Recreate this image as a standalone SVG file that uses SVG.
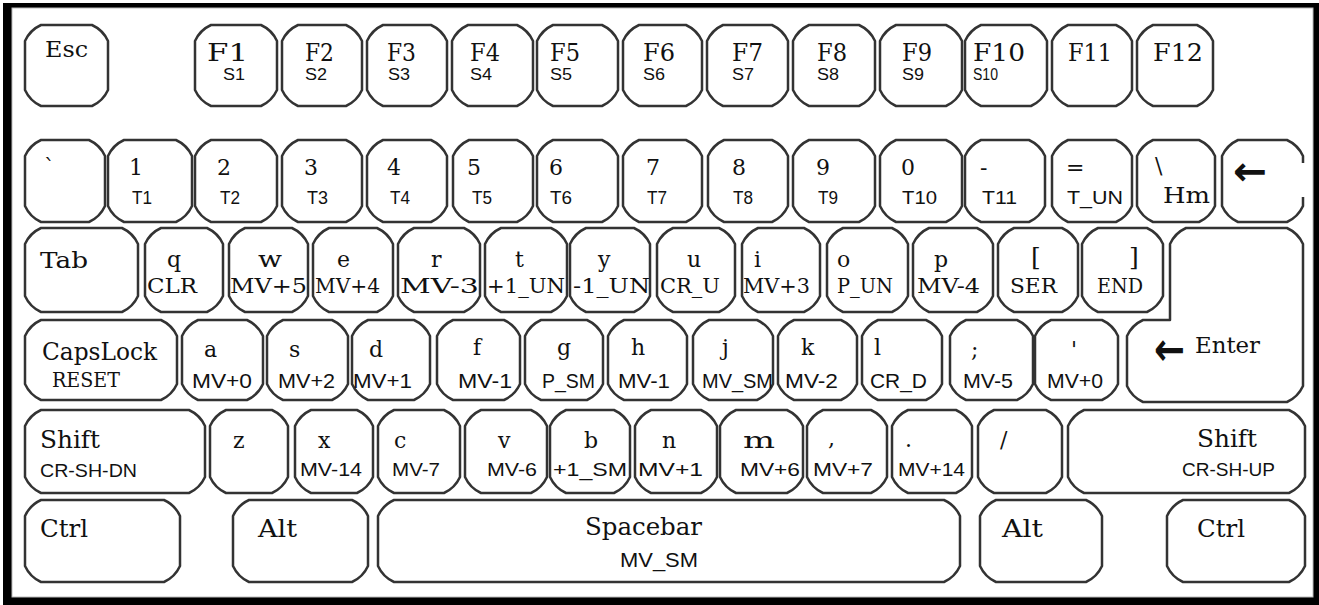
<svg xmlns="http://www.w3.org/2000/svg" width="1319" height="605" viewBox="0 0 1319 605">
<style>
.k{fill:#fff;stroke:#333;stroke-width:2.5;stroke-linejoin:round}
.m{font-family:"DejaVu Serif","Liberation Serif",serif;fill:#111}
.s{font-family:"Liberation Sans","DejaVu Sans",sans-serif;fill:#111}
.fk{font-size:25px}
.mn{font-size:22px}
.ml{font-size:24px}
.sk{font-size:16px}
.sn{font-size:18px}
.sr{font-size:21px}
.s4{font-size:21px}
.ar{font-family:"DejaVu Sans",sans-serif;font-weight:bold;fill:#111}
</style>
<rect x="0" y="0" width="1319" height="605" fill="#fff"/>
<rect x="3" y="3" width="1316" height="602" fill="#000"/>
<rect x="12" y="8" width="1301" height="589" fill="#fff" stroke="#bbb" stroke-width="1"/>

<!-- Row 1 -->
<g id="key-esc"><path class="k" d="M41,25h51q11,5 16,16v49q-5,11 -16,16h-51q-11,-5 -16,-16v-49q5,-11 16,-16z"/><text class="m mn" x="45" y="57" textLength="43" lengthAdjust="spacingAndGlyphs">Esc</text></g>
<g id="key-f1"><path class="k" d="M211,25h50q11,5 16,16v49q-5,11 -16,16h-50q-11,-5 -16,-16v-49q5,-11 16,-16z"/><text class="m fk" x="207" y="61" textLength="41" lengthAdjust="spacingAndGlyphs">F1</text><text class="s sk" x="223" y="80" textLength="22" lengthAdjust="spacingAndGlyphs">S1</text></g>
<g id="key-f2"><path class="k" d="M298,25h48q11,5 16,16v49q-5,11 -16,16h-48q-11,-5 -16,-16v-49q5,-11 16,-16z"/><text class="m fk" x="305" y="61" textLength="29" lengthAdjust="spacingAndGlyphs">F2</text><text class="s sk" x="305" y="80" textLength="22" lengthAdjust="spacingAndGlyphs">S2</text></g>
<g id="key-f3"><path class="k" d="M383,25h48q11,5 16,16v49q-5,11 -16,16h-48q-11,-5 -16,-16v-49q5,-11 16,-16z"/><text class="m fk" x="387" y="61" textLength="29" lengthAdjust="spacingAndGlyphs">F3</text><text class="s sk" x="388" y="80" textLength="22" lengthAdjust="spacingAndGlyphs">S3</text></g>
<g id="key-f4"><path class="k" d="M468,25h49q11,5 16,16v49q-5,11 -16,16h-49q-11,-5 -16,-16v-49q5,-11 16,-16z"/><text class="m fk" x="470" y="61" textLength="30" lengthAdjust="spacingAndGlyphs">F4</text><text class="s sk" x="470" y="80" textLength="22" lengthAdjust="spacingAndGlyphs">S4</text></g>
<g id="key-f5"><path class="k" d="M553,25h49q11,5 16,16v49q-5,11 -16,16h-49q-11,-5 -16,-16v-49q5,-11 16,-16z"/><text class="m fk" x="550" y="61" textLength="30" lengthAdjust="spacingAndGlyphs">F5</text><text class="s sk" x="550" y="80" textLength="22" lengthAdjust="spacingAndGlyphs">S5</text></g>
<g id="key-f6"><path class="k" d="M639,25h47q11,5 16,16v49q-5,11 -16,16h-47q-11,-5 -16,-16v-49q5,-11 16,-16z"/><text class="m fk" x="643" y="61" textLength="32" lengthAdjust="spacingAndGlyphs">F6</text><text class="s sk" x="643" y="80" textLength="22" lengthAdjust="spacingAndGlyphs">S6</text></g>
<g id="key-f7"><path class="k" d="M723,25h49q11,5 16,16v49q-5,11 -16,16h-49q-11,-5 -16,-16v-49q5,-11 16,-16z"/><text class="m fk" x="732" y="61" textLength="31" lengthAdjust="spacingAndGlyphs">F7</text><text class="s sk" x="732" y="80" textLength="22" lengthAdjust="spacingAndGlyphs">S7</text></g>
<g id="key-f8"><path class="k" d="M809,25h50q11,5 16,16v49q-5,11 -16,16h-50q-11,-5 -16,-16v-49q5,-11 16,-16z"/><text class="m fk" x="817" y="61" textLength="30" lengthAdjust="spacingAndGlyphs">F8</text><text class="s sk" x="817" y="80" textLength="22" lengthAdjust="spacingAndGlyphs">S8</text></g>
<g id="key-f9"><path class="k" d="M896,25h50q11,5 16,16v49q-5,11 -16,16h-50q-11,-5 -16,-16v-49q5,-11 16,-16z"/><text class="m fk" x="902" y="61" textLength="30" lengthAdjust="spacingAndGlyphs">F9</text><text class="s sk" x="902" y="80" textLength="22" lengthAdjust="spacingAndGlyphs">S9</text></g>
<g id="key-f10"><path class="k" d="M981,25h50q11,5 16,16v49q-5,11 -16,16h-50q-11,-5 -16,-16v-49q5,-11 16,-16z"/><text class="m fk" x="973" y="61" textLength="52" lengthAdjust="spacingAndGlyphs">F10</text><text class="s sk" x="973" y="80" textLength="25" lengthAdjust="spacingAndGlyphs">S10</text></g>
<g id="key-f11"><path class="k" d="M1068,25h48q11,5 16,16v49q-5,11 -16,16h-48q-11,-5 -16,-16v-49q5,-11 16,-16z"/><text class="m fk" x="1068" y="61" textLength="44" lengthAdjust="spacingAndGlyphs">F11</text></g>
<g id="key-f12"><path class="k" d="M1153,25h44q11,5 16,16v49q-5,11 -16,16h-44q-11,-5 -16,-16v-49q5,-11 16,-16z"/><text class="m fk" x="1153" y="61" textLength="50" lengthAdjust="spacingAndGlyphs">F12</text></g>

<!-- Row 2 -->
<g id="key-grave"><path class="k" d="M41,140h48q11,5 16,16v50q-5,11 -16,16h-48q-11,-5 -16,-16v-50q5,-11 16,-16z"/><text class="m mn" x="44" y="175">`</text></g>
<g id="key-1"><path class="k" d="M124,140h52q11,5 16,16v50q-5,11 -16,16h-52q-11,-5 -16,-16v-50q5,-11 16,-16z"/><text class="m mn" x="129" y="175">1</text><text class="s sn" x="132" y="204" textLength="20" lengthAdjust="spacingAndGlyphs">T1</text></g>
<g id="key-2"><path class="k" d="M211,140h50q11,5 16,16v50q-5,11 -16,16h-50q-11,-5 -16,-16v-50q5,-11 16,-16z"/><text class="m mn" x="217" y="175">2</text><text class="s sn" x="220" y="204" textLength="20" lengthAdjust="spacingAndGlyphs">T2</text></g>
<g id="key-3"><path class="k" d="M298,140h48q11,5 16,16v50q-5,11 -16,16h-48q-11,-5 -16,-16v-50q5,-11 16,-16z"/><text class="m mn" x="304" y="175">3</text><text class="s sn" x="307" y="204" textLength="21" lengthAdjust="spacingAndGlyphs">T3</text></g>
<g id="key-4"><path class="k" d="M383,140h48q11,5 16,16v50q-5,11 -16,16h-48q-11,-5 -16,-16v-50q5,-11 16,-16z"/><text class="m mn" x="387" y="175">4</text><text class="s sn" x="390" y="204" textLength="20" lengthAdjust="spacingAndGlyphs">T4</text></g>
<g id="key-5"><path class="k" d="M469,140h48q11,5 16,16v50q-5,11 -16,16h-48q-11,-5 -16,-16v-50q5,-11 16,-16z"/><text class="m mn" x="467" y="175">5</text><text class="s sn" x="472" y="204" textLength="20" lengthAdjust="spacingAndGlyphs">T5</text></g>
<g id="key-6"><path class="k" d="M553,140h49q11,5 16,16v50q-5,11 -16,16h-49q-11,-5 -16,-16v-50q5,-11 16,-16z"/><text class="m mn" x="549" y="175">6</text><text class="s sn" x="550" y="204" textLength="22" lengthAdjust="spacingAndGlyphs">T6</text></g>
<g id="key-7"><path class="k" d="M639,140h47q11,5 16,16v50q-5,11 -16,16h-47q-11,-5 -16,-16v-50q5,-11 16,-16z"/><text class="m mn" x="646" y="175">7</text><text class="s sn" x="647" y="204" textLength="20" lengthAdjust="spacingAndGlyphs">T7</text></g>
<g id="key-8"><path class="k" d="M724,140h48q11,5 16,16v50q-5,11 -16,16h-48q-11,-5 -16,-16v-50q5,-11 16,-16z"/><text class="m mn" x="732" y="175">8</text><text class="s sn" x="733" y="204" textLength="20" lengthAdjust="spacingAndGlyphs">T8</text></g>
<g id="key-9"><path class="k" d="M809,140h50q11,5 16,16v50q-5,11 -16,16h-50q-11,-5 -16,-16v-50q5,-11 16,-16z"/><text class="m mn" x="816" y="175">9</text><text class="s sn" x="818" y="204" textLength="20" lengthAdjust="spacingAndGlyphs">T9</text></g>
<g id="key-0"><path class="k" d="M896,140h50q11,5 16,16v50q-5,11 -16,16h-50q-11,-5 -16,-16v-50q5,-11 16,-16z"/><text class="m mn" x="901" y="175">0</text><text class="s sn" x="902" y="204" textLength="35" lengthAdjust="spacingAndGlyphs">T10</text></g>
<g id="key-minus"><path class="k" d="M981,140h48q11,5 16,16v50q-5,11 -16,16h-48q-11,-5 -16,-16v-50q5,-11 16,-16z"/><text class="m mn" x="980" y="175">-</text><text class="s sn" x="982" y="204" textLength="35" lengthAdjust="spacingAndGlyphs">T11</text></g>
<g id="key-equal"><path class="k" d="M1068,140h48q11,5 16,16v50q-5,11 -16,16h-48q-11,-5 -16,-16v-50q5,-11 16,-16z"/><text class="m mn" x="1066" y="175">=</text><text class="s sn" x="1067" y="204" textLength="56" lengthAdjust="spacingAndGlyphs">T_UN</text></g>
<g id="key-backslash"><path class="k" d="M1153,140h46q11,5 16,16v50q-5,11 -16,16h-46q-11,-5 -16,-16v-50q5,-11 16,-16z"/><text class="m mn" x="1155" y="173">\</text><text class="m mn" x="1163" y="203" textLength="47" lengthAdjust="spacingAndGlyphs">Hm</text></g>
<g id="key-backspace"><path class="k" d="M1303,197V206q-5,11 -16,16H1238q-11,-5 -16,-16V156q5,-11 16,-16H1287q11,5 16,16V163"/><text class="ar" x="1233" y="185" font-size="40" textLength="34" lengthAdjust="spacingAndGlyphs">←</text></g>

<!-- Row 3 -->
<g id="key-tab"><path class="k" d="M41,228h81q11,5 16,16v52q-5,11 -16,16h-81q-11,-5 -16,-16v-52q5,-11 16,-16z"/><text class="m mn" x="40" y="268" textLength="48" lengthAdjust="spacingAndGlyphs">Tab</text></g>
<g id="key-q"><path class="k" d="M161,228h46q11,5 16,16v52q-5,11 -16,16h-46q-11,-5 -16,-16v-52q5,-11 16,-16z"/><text class="m mn" x="167" y="267">q</text><text class="m sr" x="147" y="293" textLength="50" lengthAdjust="spacingAndGlyphs">CLR</text></g>
<g id="key-w"><path class="k" d="M245,228h47q11,5 16,16v52q-5,11 -16,16h-47q-11,-5 -16,-16v-52q5,-11 16,-16z"/><text class="m mn" x="258" y="267" textLength="24" lengthAdjust="spacingAndGlyphs">w</text><text class="m sr" x="230" y="293" textLength="77" lengthAdjust="spacingAndGlyphs">MV+5</text></g>
<g id="key-e"><path class="k" d="M329,228h48q11,5 16,16v52q-5,11 -16,16h-48q-11,-5 -16,-16v-52q5,-11 16,-16z"/><text class="m mn" x="337" y="267">e</text><text class="m sr" x="315" y="293" textLength="65" lengthAdjust="spacingAndGlyphs">MV+4</text></g>
<g id="key-r"><path class="k" d="M414,228h50q11,5 16,16v52q-5,11 -16,16h-50q-11,-5 -16,-16v-52q5,-11 16,-16z"/><text class="m mn" x="431" y="267">r</text><text class="m sr" x="400" y="293" textLength="79" lengthAdjust="spacingAndGlyphs">MV-3</text></g>
<g id="key-t"><path class="k" d="M501,228h50q11,5 16,16v52q-5,11 -16,16h-50q-11,-5 -16,-16v-52q5,-11 16,-16z"/><text class="m mn" x="515" y="267">t</text><text class="m sr" x="487" y="293" textLength="78" lengthAdjust="spacingAndGlyphs">+1_UN</text></g>
<g id="key-y"><path class="k" d="M586,228h48q11,5 16,16v52q-5,11 -16,16h-48q-11,-5 -16,-16v-52q5,-11 16,-16z"/><text class="m mn" x="598" y="267">y</text><text class="m sr" x="573" y="293" textLength="77" lengthAdjust="spacingAndGlyphs">-1_UN</text></g>
<g id="key-u"><path class="k" d="M673,228h46q11,5 16,16v52q-5,11 -16,16h-46q-11,-5 -16,-16v-52q5,-11 16,-16z"/><text class="m mn" x="687" y="267">u</text><text class="m sr" x="660" y="293" textLength="60" lengthAdjust="spacingAndGlyphs">CR_U</text></g>
<g id="key-i"><path class="k" d="M758,228h46q11,5 16,16v52q-5,11 -16,16h-46q-11,-5 -16,-16v-52q5,-11 16,-16z"/><text class="m mn" x="754" y="267">i</text><text class="m sr" x="743" y="293" textLength="67" lengthAdjust="spacingAndGlyphs">MV+3</text></g>
<g id="key-o"><path class="k" d="M843,228h49q11,5 16,16v52q-5,11 -16,16h-49q-11,-5 -16,-16v-52q5,-11 16,-16z"/><text class="m mn" x="837" y="267">o</text><text class="m sr" x="837" y="293" textLength="56" lengthAdjust="spacingAndGlyphs">P_UN</text></g>
<g id="key-p"><path class="k" d="M929,228h48q11,5 16,16v52q-5,11 -16,16h-48q-11,-5 -16,-16v-52q5,-11 16,-16z"/><text class="m mn" x="934" y="267">p</text><text class="m sr" x="917" y="293" textLength="63" lengthAdjust="spacingAndGlyphs">MV-4</text></g>
<g id="key-lbracket"><path class="k" d="M1014,228h48q11,5 16,16v52q-5,11 -16,16h-48q-11,-5 -16,-16v-52q5,-11 16,-16z"/><text class="m" font-size="25" x="1031" y="265">[</text><text class="m sr" x="1010" y="293" textLength="47" lengthAdjust="spacingAndGlyphs">SER</text></g>
<g id="key-rbracket"><path class="k" d="M1098,228h49q11,5 16,16v52q-5,11 -16,16h-49q-11,-5 -16,-16v-52q5,-11 16,-16z"/><text class="m" font-size="25" x="1129" y="265">]</text><text class="m sr" x="1097" y="293" textLength="46" lengthAdjust="spacingAndGlyphs">END</text></g>
<g id="key-enter"><path class="k" d="M1186,228H1287q11,5 16,16V386q-5,11 -16,16H1143q-11,-5 -16,-16V336q5,-11 16,-16H1170V244q5,-11 16,-16z"/><text class="ar" x="1154" y="365" font-size="46" textLength="31" lengthAdjust="spacingAndGlyphs">←</text><text class="m mn" x="1195" y="353" textLength="65" lengthAdjust="spacingAndGlyphs">Enter</text></g>

<!-- Row 4 -->
<g id="key-capslock"><path class="k" d="M41,320h120q11,5 16,16v48q-5,11 -16,16h-120q-11,-5 -16,-16v-48q5,-11 16,-16z"/><text class="m ml" x="42" y="360" textLength="115" lengthAdjust="spacingAndGlyphs">CapsLock</text><text class="m sr" x="52" y="387" textLength="68" lengthAdjust="spacingAndGlyphs">RESET</text></g>
<g id="key-a"><path class="k" d="M198,320h49q11,5 16,16v48q-5,11 -16,16h-49q-11,-5 -16,-16v-48q5,-11 16,-16z"/><text class="m mn" x="204" y="357">a</text><text class="s s4" x="192" y="388" textLength="60" lengthAdjust="spacingAndGlyphs">MV+0</text></g>
<g id="key-s"><path class="k" d="M283,320h49q11,5 16,16v48q-5,11 -16,16h-49q-11,-5 -16,-16v-48q5,-11 16,-16z"/><text class="m mn" x="289" y="357">s</text><text class="s s4" x="278" y="388" textLength="57" lengthAdjust="spacingAndGlyphs">MV+2</text></g>
<g id="key-d"><path class="k" d="M368,320h46q11,5 16,16v48q-5,11 -16,16h-46q-11,-5 -16,-16v-48q5,-11 16,-16z"/><text class="m mn" x="369" y="357">d</text><text class="s s4" x="353" y="388" textLength="59" lengthAdjust="spacingAndGlyphs">MV+1</text></g>
<g id="key-f"><path class="k" d="M453,320h51q11,5 16,16v48q-5,11 -16,16h-51q-11,-5 -16,-16v-48q5,-11 16,-16z"/><text class="m mn" x="473" y="355">f</text><text class="s s4" x="458" y="388" textLength="54" lengthAdjust="spacingAndGlyphs">MV-1</text></g>
<g id="key-g"><path class="k" d="M541,320h46q11,5 16,16v48q-5,11 -16,16h-46q-11,-5 -16,-16v-48q5,-11 16,-16z"/><text class="m mn" x="557" y="355">g</text><text class="s s4" x="542" y="388" textLength="53" lengthAdjust="spacingAndGlyphs">P_SM</text></g>
<g id="key-h"><path class="k" d="M624,320h47q11,5 16,16v48q-5,11 -16,16h-47q-11,-5 -16,-16v-48q5,-11 16,-16z"/><text class="m mn" x="631" y="355">h</text><text class="s s4" x="618" y="388" textLength="52" lengthAdjust="spacingAndGlyphs">MV-1</text></g>
<g id="key-j"><path class="k" d="M709,320h48q11,5 16,16v48q-5,11 -16,16h-48q-11,-5 -16,-16v-48q5,-11 16,-16z"/><text class="m mn" x="722" y="355">j</text><text class="s s4" x="702" y="388" textLength="71" lengthAdjust="spacingAndGlyphs">MV_SM</text></g>
<g id="key-k"><path class="k" d="M794,320h47q11,5 16,16v48q-5,11 -16,16h-47q-11,-5 -16,-16v-48q5,-11 16,-16z"/><text class="m mn" x="801" y="355">k</text><text class="s s4" x="785" y="388" textLength="53" lengthAdjust="spacingAndGlyphs">MV-2</text></g>
<g id="key-l"><path class="k" d="M878,320h48q11,5 16,16v48q-5,11 -16,16h-48q-11,-5 -16,-16v-48q5,-11 16,-16z"/><text class="m mn" x="874" y="355">l</text><text class="s s4" x="870" y="388" textLength="57" lengthAdjust="spacingAndGlyphs">CR_D</text></g>
<g id="key-semicolon"><path class="k" d="M966,320h51q11,5 16,16v48q-5,11 -16,16h-51q-11,-5 -16,-16v-48q5,-11 16,-16z"/><text class="m mn" x="971" y="357">;</text><text class="s s4" x="963" y="388" textLength="50" lengthAdjust="spacingAndGlyphs">MV-5</text></g>
<g id="key-quote"><path class="k" d="M1051,320h51q11,5 16,16v48q-5,11 -16,16h-51q-11,-5 -16,-16v-48q5,-11 16,-16z"/><text class="m mn" x="1071" y="357">'</text><text class="s s4" x="1047" y="388" textLength="56" lengthAdjust="spacingAndGlyphs">MV+0</text></g>

<!-- Row 5 -->
<g id="key-lshift"><path class="k" d="M41,410h148q11,5 16,16v51q-5,11 -16,16h-148q-11,-5 -16,-16v-51q5,-11 16,-16z"/><text class="m ml" x="40" y="448" textLength="60" lengthAdjust="spacingAndGlyphs">Shift</text><text class="s sn" x="40" y="477" textLength="97" lengthAdjust="spacingAndGlyphs">CR-SH-DN</text></g>
<g id="key-z"><path class="k" d="M226,410h46q11,5 16,16v51q-5,11 -16,16h-46q-11,-5 -16,-16v-51q5,-11 16,-16z"/><text class="m mn" x="233" y="448">z</text></g>
<g id="key-x"><path class="k" d="M311,410h46q11,5 16,16v51q-5,11 -16,16h-46q-11,-5 -16,-16v-51q5,-11 16,-16z"/><text class="m mn" x="318" y="448">x</text><text class="s sn" x="300" y="476" textLength="62" lengthAdjust="spacingAndGlyphs">MV-14</text></g>
<g id="key-c"><path class="k" d="M394,410h50q11,5 16,16v51q-5,11 -16,16h-50q-11,-5 -16,-16v-51q5,-11 16,-16z"/><text class="m mn" x="394" y="448">c</text><text class="s sn" x="392" y="476" textLength="48" lengthAdjust="spacingAndGlyphs">MV-7</text></g>
<g id="key-v"><path class="k" d="M481,410h50q11,5 16,16v51q-5,11 -16,16h-50q-11,-5 -16,-16v-51q5,-11 16,-16z"/><text class="m mn" x="498" y="448">v</text><text class="s sn" x="487" y="476" textLength="50" lengthAdjust="spacingAndGlyphs">MV-6</text></g>
<g id="key-b"><path class="k" d="M566,410h48q11,5 16,16v51q-5,11 -16,16h-48q-11,-5 -16,-16v-51q5,-11 16,-16z"/><text class="m mn" x="584" y="448">b</text><text class="s sn" x="553" y="476" textLength="74" lengthAdjust="spacingAndGlyphs">+1_SM</text></g>
<g id="key-n"><path class="k" d="M651,410h50q11,5 16,16v51q-5,11 -16,16h-50q-11,-5 -16,-16v-51q5,-11 16,-16z"/><text class="m mn" x="662" y="448">n</text><text class="s sn" x="638" y="476" textLength="65" lengthAdjust="spacingAndGlyphs">MV+1</text></g>
<g id="key-m"><path class="k" d="M736,410h51q11,5 16,16v51q-5,11 -16,16h-51q-11,-5 -16,-16v-51q5,-11 16,-16z"/><text class="m mn" x="743" y="448" textLength="32" lengthAdjust="spacingAndGlyphs">m</text><text class="s sn" x="740" y="476" textLength="60" lengthAdjust="spacingAndGlyphs">MV+6</text></g>
<g id="key-comma"><path class="k" d="M823,410h48q11,5 16,16v51q-5,11 -16,16h-48q-11,-5 -16,-16v-51q5,-11 16,-16z"/><text class="m mn" x="828" y="446">,</text><text class="s sn" x="813" y="476" textLength="60" lengthAdjust="spacingAndGlyphs">MV+7</text></g>
<g id="key-period"><path class="k" d="M908,410h48q11,5 16,16v51q-5,11 -16,16h-48q-11,-5 -16,-16v-51q5,-11 16,-16z"/><text class="m mn" x="905" y="447">.</text><text class="s sn" x="898" y="476" textLength="67" lengthAdjust="spacingAndGlyphs">MV+14</text></g>
<g id="key-slash"><path class="k" d="M994,410h52q11,5 16,16v51q-5,11 -16,16h-52q-11,-5 -16,-16v-51q5,-11 16,-16z"/><text class="m mn" x="1000" y="447">/</text></g>
<g id="key-rshift"><path class="k" d="M1084,410h205q11,5 16,16v51q-5,11 -16,16h-205q-11,-5 -16,-16v-51q5,-11 16,-16z"/><text class="m ml" x="1197" y="447" textLength="60" lengthAdjust="spacingAndGlyphs">Shift</text><text class="s sn" x="1182" y="476" textLength="93" lengthAdjust="spacingAndGlyphs">CR-SH-UP</text></g>

<!-- Row 6 -->
<g id="key-lctrl"><path class="k" d="M41,500h123q11,5 16,16v50q-5,11 -16,16h-123q-11,-5 -16,-16v-50q5,-11 16,-16z"/><text class="m ml" x="40" y="537" textLength="48" lengthAdjust="spacingAndGlyphs">Ctrl</text></g>
<g id="key-lalt"><path class="k" d="M249,500h103q11,5 16,16v50q-5,11 -16,16h-103q-11,-5 -16,-16v-50q5,-11 16,-16z"/><text class="m ml" x="258" y="537" textLength="39" lengthAdjust="spacingAndGlyphs">Alt</text></g>
<g id="key-space"><path class="k" d="M394,500h550q11,5 16,16v50q-5,11 -16,16h-550q-11,-5 -16,-16v-50q5,-11 16,-16z"/><text class="m ml" x="585" y="535" textLength="117" lengthAdjust="spacingAndGlyphs">Spacebar</text><text class="s s4" x="620" y="567" textLength="78" lengthAdjust="spacingAndGlyphs">MV_SM</text></g>
<g id="key-ralt"><path class="k" d="M996,500h90q11,5 16,16v50q-5,11 -16,16h-90q-11,-5 -16,-16v-50q5,-11 16,-16z"/><text class="m ml" x="1002" y="537" textLength="41" lengthAdjust="spacingAndGlyphs">Alt</text></g>
<g id="key-rctrl"><path class="k" d="M1183,500h106q11,5 16,16v50q-5,11 -16,16h-106q-11,-5 -16,-16v-50q5,-11 16,-16z"/><text class="m ml" x="1197" y="537" textLength="48" lengthAdjust="spacingAndGlyphs">Ctrl</text></g>

<g id="connectors"></g>
</svg>
